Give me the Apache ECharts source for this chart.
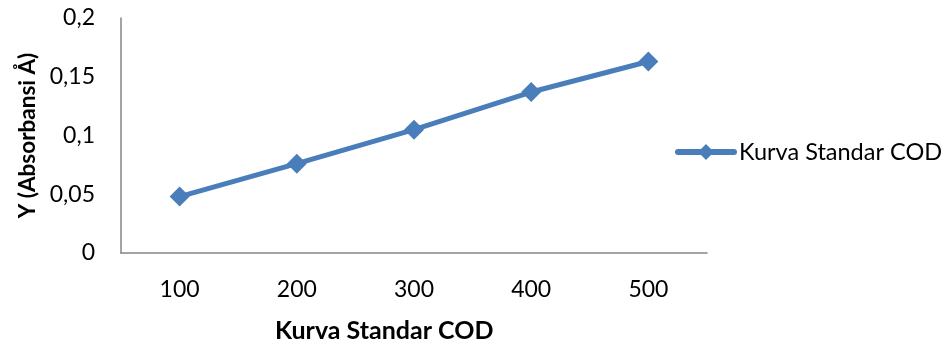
<!DOCTYPE html>
<html>
<head>
<meta charset="utf-8">
<script src="https://cdn.jsdelivr.net/npm/echarts@6/dist/echarts.min.js"></script>
<style>
  html, body { margin: 0; padding: 0; background: #fff; }
  #chart { width: 944px; height: 347px; }
</style>
</head>
<body>
<div id="chart"></div>
<script>
// COD standard curve: concentration categories and measured absorbance
const categories = ['100', '200', '300', '400', '500'];
const absorbance = [0.048, 0.076, 0.105, 0.137, 0.163];
const seriesName = 'Kurva Standar COD';
const xAxisTitle = 'Kurva Standar COD';
const yAxisTitle = 'Y (Absorbansi Å)';

const FONT = 'Lato, "Liberation Sans", sans-serif';
const LINE_COLOR = '#4A7EBB';
const AXIS_COLOR = '#868686';

const chart = echarts.init(document.getElementById('chart'), null, { renderer: 'canvas' });

chart.setOption({
  animation: false,
  backgroundColor: '#ffffff',
  textStyle: { fontFamily: FONT },
  grid: {
    left: 121, right: 237, top: 18, bottom: 94,
    containLabel: false,
    outerBoundsMode: 'none'
  },
  legend: {
    data: [seriesName],
    left: 675,
    top: 140,
    padding: 0,
    itemWidth: 56,
    itemHeight: 20,
    itemGap: 2,
    lineStyle: { width: 6, color: LINE_COLOR, cap: 'round' },
    textStyle: { fontFamily: FONT, fontSize: 23.5, color: '#000', padding: 0 }
  },
  xAxis: {
    type: 'category',
    data: categories,
    boundaryGap: true,
    axisLine: { lineStyle: { color: AXIS_COLOR, width: 1.5 } },
    axisTick: { show: false },
    splitLine: { show: false },
    axisLabel: { color: '#000', fontSize: 23, margin: 25, fontFamily: FONT }
  },
  yAxis: {
    type: 'value',
    min: 0,
    max: 0.2,
    interval: 0.05,
    name: yAxisTitle,
    nameLocation: 'middle',
    nameGap: 82,
    nameRotate: 90,
    nameTextStyle: { color: '#000', fontSize: 22.5, fontWeight: 'bold', fontFamily: FONT },
    axisLine: { show: true, lineStyle: { color: AXIS_COLOR, width: 1.5 } },
    axisTick: { show: false },
    splitLine: { show: false },
    axisLabel: {
      color: '#000',
      fontSize: 23,
      margin: 26,
      fontFamily: FONT,
      formatter: v => String(+v.toFixed(2)).replace('.', ',')
    }
  },
  graphic: [{
    type: 'text',
    left: 275,
    top: 318,
    style: { text: xAxisTitle, font: 'bold 25px ' + FONT, fill: '#000' }
  }],
  series: [{
    name: seriesName,
    type: 'line',
    data: absorbance,
    symbol: 'diamond',
    symbolSize: 20,
    lineStyle: { color: LINE_COLOR, width: 5 },
    itemStyle: { color: LINE_COLOR }
  }]
});
</script>
</body>
</html>
